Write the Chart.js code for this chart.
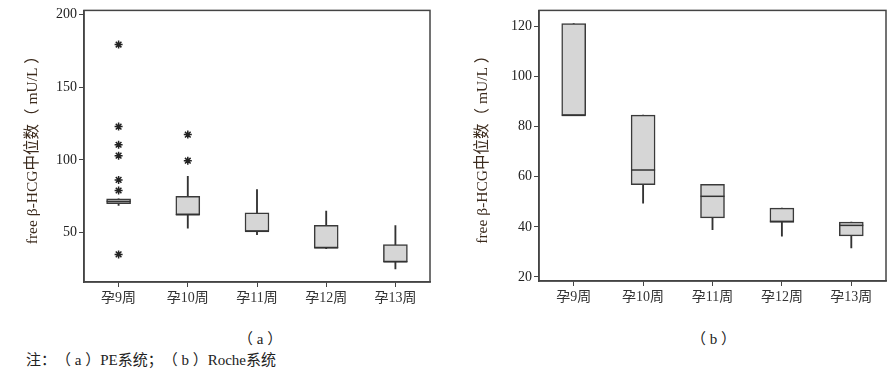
<!DOCTYPE html>
<html>
<head>
<meta charset="utf-8">
<script src="https://cdn.jsdelivr.net/npm/chart.js@4"></script>
<style>
  body { margin: 0; background: #fff; width: 892px; height: 370px; position: relative; overflow: hidden; }
  .wrap { position: absolute; top: 0; }
  .cap { position: absolute; font-family: "Liberation Serif", "Noto Sans CJK SC", serif; font-size: 15px; color: #222; white-space: nowrap; text-spacing-trim: space-all; }
</style>
</head>
<body>
<div class="wrap" style="left:0;width:446px;height:312px"><canvas id="chartPE"></canvas></div>
<div class="wrap" style="left:446px;width:446px;height:312px"><canvas id="chartRoche"></canvas></div>
<div class="cap" style="left:238px;top:327px">（ a ）</div>
<div class="cap" style="left:691px;top:327px">（ b ）</div>
<div class="cap" style="left:26px;top:348px">注：（ a ）PE系统；（ b ）Roche系统</div>
<script>
const categories = ['孕9周', '孕10周', '孕11周', '孕12周', '孕13周'];

// (a) PE系统
const peMin = [68.7, 53, 48.6, 39, 25];
const peQ1 = [70, 62.3, 50.9, 39.5, 29.9];
const peMedian = [71.5, 62.3, 50.9, 39.5, 29.9];
const peQ3 = [73.3, 74.9, 63.7, 55, 41.7];
const peMax = [73.3, 88.8, 79.7, 64.8, 54.8];
const peOutliers = [
    [179.5, 123, 110.5, 103, 86.3, 79, 35],
    [117.5, 99.5],
    [], [], []
];
const peTicks = [50, 100, 150, 200];

// (b) Roche系统
const rocheMin = [84.5, 49.5, 38.9, 36.3, 31.6];
const rocheQ1 = [84.5, 56.8, 43.6, 41.8, 36.4];
const rocheMedian = [84.5, 62.7, 52.2, 42.2, 40.6];
const rocheQ3 = [121.1, 84.6, 57, 47.5, 41.9];
const rocheMax = [121.1, 84.6, 57, 47.5, 41.9];
const rocheTicks = [20, 40, 60, 80, 100, 120];

const serif = '"Liberation Serif", "Noto Sans CJK SC", serif';
const yTitle = 'free β-HCG中位数（ mU/L ）';

// median lines and full frame
const boxExtras = {
    id: 'boxExtras',
    afterDatasetsDraw(chart, args, opts) {
        const ctx = chart.ctx;
        const y = chart.scales.y;
        const meta = chart.getDatasetMeta(1);
        ctx.save();
        ctx.strokeStyle = '#333';
        ctx.lineWidth = 1.5;
        opts.medians.forEach((m, i) => {
            const bar = meta.data[i];
            const py = y.getPixelForValue(m);
            ctx.beginPath();
            ctx.moveTo(bar.x - bar.width / 2, py);
            ctx.lineTo(bar.x + bar.width / 2, py);
            ctx.stroke();
        });
        const a = chart.chartArea;
        ctx.strokeStyle = '#444';
        ctx.lineWidth = 1.5;
        ctx.strokeRect(a.left, a.top, a.right - a.left, a.bottom - a.top);
        ctx.restore();
    }
};

function makeChart(id, mins, q1s, q3s, maxs, medians, outliers, yMin, yMax, tickVals, axisWidth, rightPad, topPad, titlePad) {
    const datasets = [
        {
            type: 'bar',
            data: categories.map((c, i) => [mins[i], maxs[i]]),
            backgroundColor: '#333',
            barThickness: 1.2,
            grouped: false,
            order: 3
        },
        {
            type: 'bar',
            data: categories.map((c, i) => [q1s[i], q3s[i]]),
            backgroundColor: '#d6d6d6',
            borderColor: '#3a3a3a',
            borderWidth: 1.5,
            borderSkipped: false,
            barThickness: 24,
            grouped: false,
            order: 2
        }
    ];
    const pts = [];
    outliers.forEach((list, i) => list.forEach(v => pts.push({ x: categories[i], y: v })));
    if (pts.length) {
        datasets.push({
            type: 'line',
            data: pts,
            showLine: false,
            pointStyle: 'star',
            pointRadius: 4,
            borderColor: '#222',
            borderWidth: 1.5,
            order: 1
        });
    }
    return new Chart(document.getElementById(id), {
        data: { labels: categories, datasets: datasets },
        options: {
            responsive: true,
            maintainAspectRatio: false,
            animation: false,
            layout: { padding: { left: 0, right: rightPad, top: topPad, bottom: 0 } },
            plugins: {
                legend: { display: false },
                tooltip: { enabled: false },
                boxExtras: { medians: medians }
            },
            scales: {
                x: {
                    type: 'category',
                    grid: { display: true, drawOnChartArea: false, offset: false, tickLength: 5, color: '#444' },
                    border: { color: '#444', width: 1.5 },
                    ticks: { font: { family: serif, size: 14 }, color: '#333', padding: 3 },
                    afterFit: s => { s.height = 312 - 282 + topPad - 9; }
                },
                y: {
                    min: yMin,
                    max: yMax,
                    grid: { display: true, drawOnChartArea: false, tickLength: 5, color: '#444' },
                    border: { color: '#444', width: 1.5 },
                    ticks: { font: { family: serif, size: 14 }, color: '#222', padding: 2 },
                    afterBuildTicks: s => { s.ticks = tickVals.map(v => ({ value: v })); },
                    afterFit: s => { s.width = axisWidth; },
                    title: {
                        display: true,
                        text: yTitle,
                        font: { family: serif, size: 15.5 },
                        color: '#3b2a1c',
                        padding: { top: titlePad, bottom: 0 }
                    }
                }
            }
        },
        plugins: [boxExtras]
    });
}

makeChart('chartPE', peMin, peQ1, peQ3, peMax, peMedian, peOutliers, 16, 203, peTicks, 84, 16, 9, 24);
makeChart('chartRoche', rocheMin, rocheQ1, rocheQ3, rocheMax, rocheMedian, [[], [], [], [], []], 18.4, 126.4, rocheTicks, 93, 6, 10, 28);
</script>
</body>
</html>
